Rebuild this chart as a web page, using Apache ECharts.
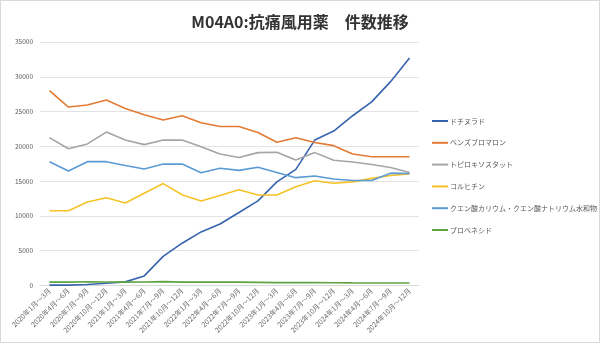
<!DOCTYPE html>
<html><head><meta charset="utf-8">
<script src="https://cdn.jsdelivr.net/npm/echarts@6/dist/echarts.min.js"></script>
<style>html,body{margin:0;padding:0;background:#fff;}#c{width:598px;height:341px;border:1px solid #d9d9d9;}</style>
</head><body><div id="c"></div>
<script>
const categories = ["2020年1月～3月","2020年4月～6月","2020年7月～9月","2020年10月～12月","2021年1月～3月","2021年4月～6月","2021年7月～9月","2021年10月～12月","2022年1月～3月","2022年4月～6月","2022年7月～9月","2022年10月～12月","2023年1月～3月","2023年4月～6月","2023年7月～9月","2023年10月～12月","2024年1月～3月","2024年4月～6月","2024年7月～9月","2024年10月～12月"];
const seriesNames = ["ドチヌラド","ベンズブロマロン","トピロキソスタット","コルヒチン","クエン酸カリウム・クエン酸ナトリウム水和物","プロベネシド"];
const dotinurad = [50,50,140,330,520,1380,4180,6080,7700,8840,10500,12170,14900,16700,20900,22200,24400,26400,29300,32700];
const benzbromarone = [28000,25650,25950,26650,25450,24550,23800,24400,23400,22850,22850,22000,20600,21250,20550,20100,18900,18500,18500,18500];
const topiroxostat = [21250,19650,20350,22050,20900,20250,20900,20900,19950,18900,18400,19100,19150,18050,19100,18000,17750,17400,16950,16250];
const colchicine = [10750,10750,12000,12600,11850,13250,14650,13050,12150,12950,13750,13000,13000,14200,15050,14700,14900,15400,15800,16050];
const citrate = [17800,16450,17800,17800,17250,16750,17450,17450,16200,16850,16550,17000,16250,15500,15750,15300,15100,15100,16150,16100];
const probenecid = [480,490,530,500,480,500,560,490,480,500,490,450,420,410,440,400,380,370,370,360];
const yTicks = [0,5000,10000,15000,20000,25000,30000,35000];
const colors = ["#3764AE","#E37B34","#A5A5A5","#F6C327","#5B9BD5","#5FA443"];
const dataSets = [dotinurad, benzbromarone, topiroxostat, colchicine, citrate, probenecid];

const font = "'Noto Sans CJK JP', 'Noto Sans', sans-serif";
const chart = echarts.init(document.getElementById('c'), null, {renderer:'canvas'});
chart.setOption({
  animation: false,
  textStyle: {fontFamily: font},
  title: {
    text: "M04A0:抗痛風用薬　件数推移",
    left: 'center', top: 8,
    textStyle: {fontSize: 16, fontWeight: 'bold', color: '#333', fontFamily: font}
  },
  legend: {
    orient: 'vertical', left: 426, top: 110,
    itemWidth: 16, itemHeight: 2, itemGap: 11.8, icon: 'rect',
    textStyle: {fontSize: 7, color: '#595959', lineHeight: 10, padding: [0,0,0,-3]},
    data: seriesNames
  },
  grid: {left: 39, right: 180, top: 41, bottom: 56.5, containLabel: false},
  xAxis: {
    type: 'category', data: categories, boundaryGap: true,
    axisLine: {lineStyle: {color: '#d9d9d9'}},
    axisTick: {show: false},
    axisLabel: {interval: 0, rotate: 45, fontSize: 7, color: '#6a6a6a', margin: 4}
  },
  yAxis: {
    type: 'value', min: 0, max: 35000, interval: 5000,
    axisLine: {show: false}, axisTick: {show: false},
    splitLine: {lineStyle: {color: '#e3e3e3'}},
    axisLabel: {fontSize: 6.5, color: '#595959', margin: 7,
      formatter: v => yTicks.includes(v) ? String(v) : ''}
  },
  series: seriesNames.map((n, i) => ({
    name: n, type: 'line', data: dataSets[i], symbol: 'none',
    lineStyle: {width: 1.6, color: colors[i]}, itemStyle: {color: colors[i]}
  }))
});
</script></body></html>
